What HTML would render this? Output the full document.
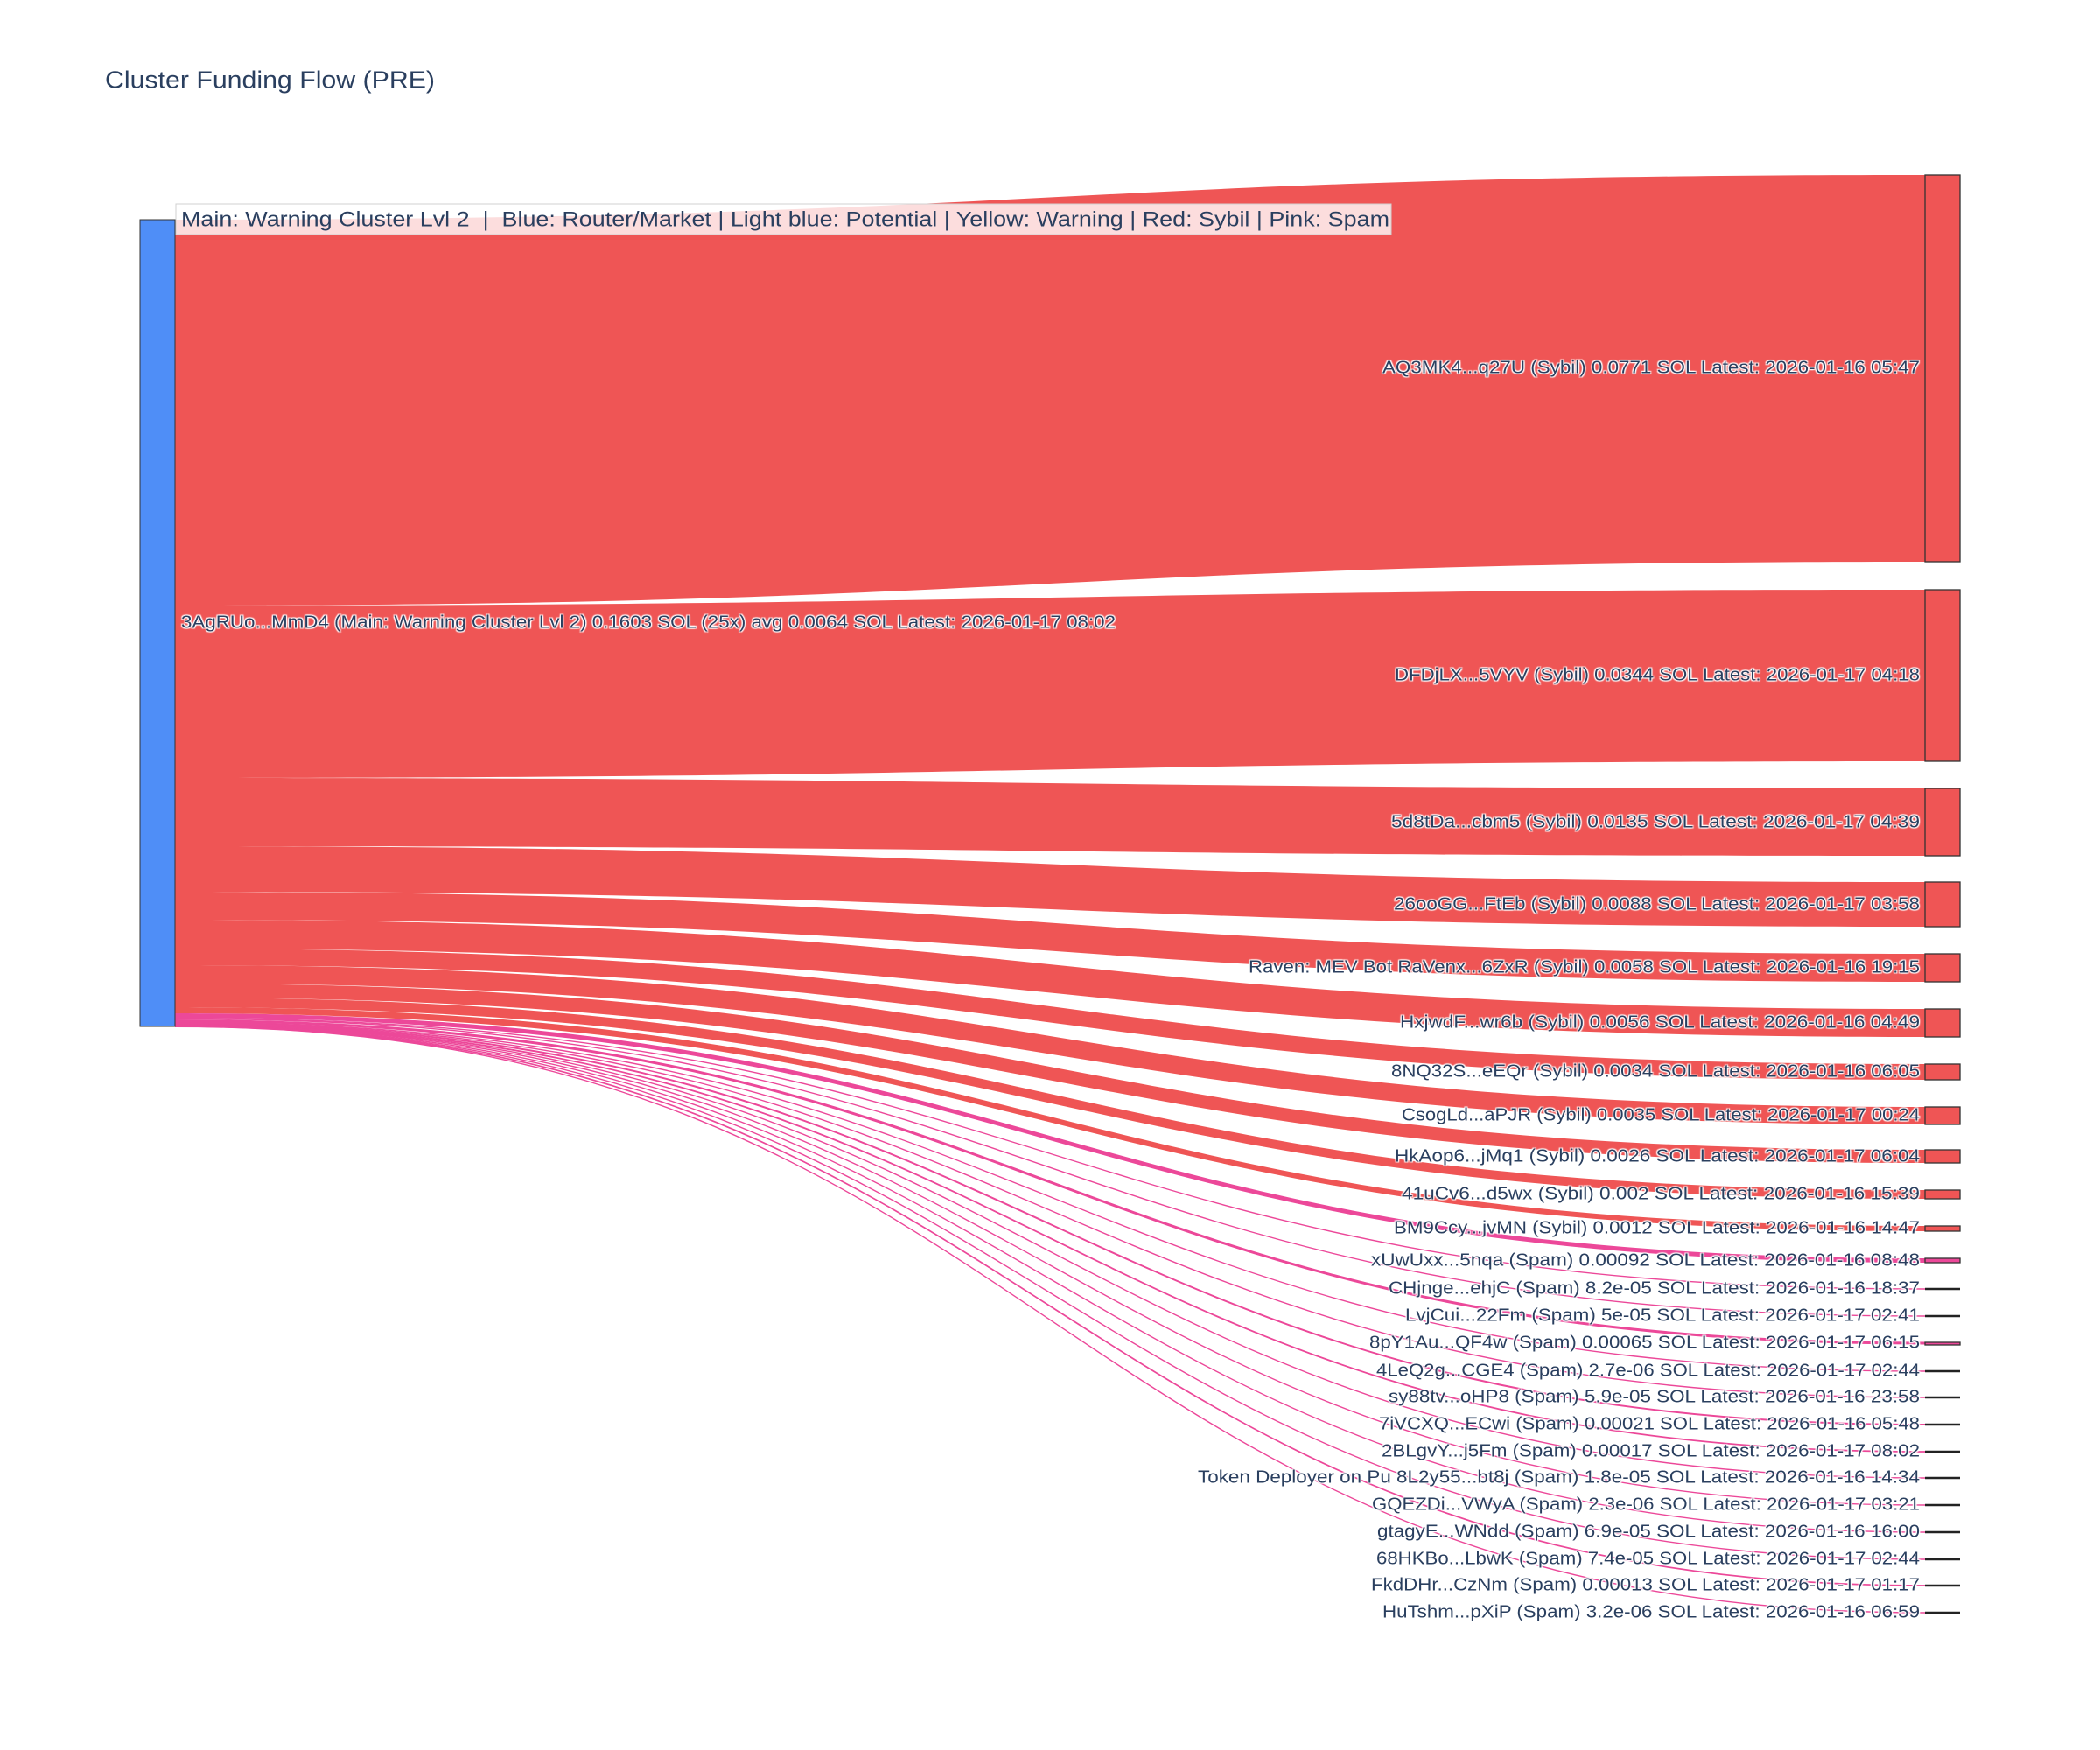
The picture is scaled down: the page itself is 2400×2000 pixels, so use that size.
<!DOCTYPE html>
<html><head><meta charset="utf-8"><style>
html,body{margin:0;padding:0;background:#fff;}
svg{display:block;}
text{font-family:"Liberation Sans",sans-serif;fill:#2a3f5f;}
.lb{font-size:20px;text-shadow:1px 1px 1px #fff,-1px -1px 1px #fff,1px -1px 1px #fff,-1px 1px 1px #fff;}
.sp{fill:none;stroke:#ec4899;stroke-width:1.4;}
.sn{stroke:#222;stroke-width:2.5;}
</style></head><body>
<svg width="2400" height="2000" viewBox="0 0 2400 2000" xmlns="http://www.w3.org/2000/svg">
<rect width="2400" height="2000" fill="#fff"/>
<text x="120" y="93" font-size="28" dominant-baseline="middle" textLength="377" lengthAdjust="spacingAndGlyphs">Cluster Funding Flow (PRE)</text>
<g fill="#ef5555">
<path d="M200,251 C1200,251 1200,200 2200,200 L2200,642 C1200,642 1200,692 200,692 Z"/>
<path d="M200,692 C1200,692 1200,674 2200,674 L2200,870 C1200,870 1200,889 200,889 Z"/>
<path d="M200,889 C1200,889 1200,901 2200,901 L2200,978 C1200,978 1200,967 200,967 Z"/>
<path d="M200,967 C1200,967 1200,1008 2200,1008 L2200,1059 C1200,1059 1200,1019 200,1019 Z"/>
<path d="M200,1019 C1200,1019 1200,1090 2200,1090 L2200,1122 C1200,1122 1200,1051 200,1051 Z"/>
<path d="M200,1051 C1200,1051 1200,1153 2200,1153 L2200,1185 C1200,1185 1200,1084 200,1084 Z"/>
<path d="M200,1084 C1200,1084 1200,1216 2200,1216 L2200,1234 C1200,1234 1200,1103 200,1103 Z"/>
<path d="M200,1103 C1200,1103 1200,1265 2200,1265 L2200,1285 C1200,1285 1200,1124 200,1124 Z"/>
<path d="M200,1124 C1200,1124 1200,1314 2200,1314 L2200,1329 C1200,1329 1200,1140 200,1140 Z"/>
<path d="M200,1140 C1200,1140 1200,1360 2200,1360 L2200,1370 C1200,1370 1200,1151 200,1151 Z"/>
<path d="M200,1151 C1200,1151 1200,1401 2200,1401 L2200,1407 C1200,1407 1200,1158 200,1158 Z"/>
</g>
<path fill="#ec4899" d="M200,1158 C1200,1158 1200,1438 2200,1438 L2200,1443 C1200,1443 1200,1163 200,1163 Z"/>
<path class="sp" d="M200,1163.5 C1200,1163.5 1200,1473 2200,1473"/>
<path class="sp" d="M200,1164.3 C1200,1164.3 1200,1504 2200,1504"/>
<path class="sp" style="stroke-width:3" d="M200,1166.5 C1200,1166.5 1200,1535 2200,1535"/>
<path class="sp" d="M200,1168.3 C1200,1168.3 1200,1567 2200,1567"/>
<path class="sp" d="M200,1169 C1200,1169 1200,1597 2200,1597"/>
<path class="sp" style="stroke-width:2" d="M200,1169.8 C1200,1169.8 1200,1628 2200,1628"/>
<path class="sp" style="stroke-width:1.8" d="M200,1170.7 C1200,1170.7 1200,1659 2200,1659"/>
<path class="sp" d="M200,1171.2 C1200,1171.2 1200,1689 2200,1689"/>
<path class="sp" d="M200,1171.5 C1200,1171.5 1200,1720 2200,1720"/>
<path class="sp" d="M200,1172 C1200,1172 1200,1751 2200,1751"/>
<path class="sp" d="M200,1172.5 C1200,1172.5 1200,1782 2200,1782"/>
<path class="sp" style="stroke-width:1.7" d="M200,1173 C1200,1173 1200,1812 2200,1812"/>
<path class="sp" d="M200,1173.3 C1200,1173.3 1200,1843 2200,1843"/>
<rect x="160" y="251" width="40" height="922" fill="#4f8ef7" stroke="#333" stroke-width="1"/>
<g fill="#ef5555" stroke="#333" stroke-width="1.3">
<rect x="2200" y="200" width="40" height="442"/>
<rect x="2200" y="674" width="40" height="196"/>
<rect x="2200" y="901" width="40" height="77"/>
<rect x="2200" y="1008" width="40" height="51"/>
<rect x="2200" y="1090" width="40" height="32"/>
<rect x="2200" y="1153" width="40" height="32"/>
<rect x="2200" y="1216" width="40" height="18"/>
<rect x="2200" y="1265" width="40" height="20"/>
<rect x="2200" y="1314" width="40" height="15"/>
<rect x="2200" y="1360" width="40" height="10"/>
<rect x="2200" y="1401" width="40" height="6"/>
</g>
<rect x="2200" y="1438" width="40" height="5" fill="#ec4899" stroke="#333" stroke-width="1.3"/>
<rect x="2200" y="1534" width="40" height="3" fill="#ec4899" stroke="#333" stroke-width="1.3"/>
<g class="sn">
<line x1="2200" x2="2240" y1="1473" y2="1473"/><line x1="2200" x2="2240" y1="1504" y2="1504"/>
<line x1="2200" x2="2240" y1="1567" y2="1567"/><line x1="2200" x2="2240" y1="1597" y2="1597"/>
<line x1="2200" x2="2240" y1="1628" y2="1628"/><line x1="2200" x2="2240" y1="1659" y2="1659"/>
<line x1="2200" x2="2240" y1="1689" y2="1689"/><line x1="2200" x2="2240" y1="1720" y2="1720"/>
<line x1="2200" x2="2240" y1="1751" y2="1751"/><line x1="2200" x2="2240" y1="1782" y2="1782"/>
<line x1="2200" x2="2240" y1="1812" y2="1812"/><line x1="2200" x2="2240" y1="1843" y2="1843"/>
</g>
<rect x="201" y="233" width="1389" height="35" fill="rgba(255,255,255,0.8)" stroke="#d0d0d0" stroke-width="1"/>
<text x="207" y="252" font-size="24" dominant-baseline="middle" style="white-space:pre" xml:space="preserve" textLength="1381" lengthAdjust="spacingAndGlyphs">Main: Warning Cluster Lvl 2  |  Blue: Router/Market | Light blue: Potential | Yellow: Warning | Red: Sybil | Pink: Spam</text>
<text class="lb" x="207" y="712" dominant-baseline="middle" textLength="1068" lengthAdjust="spacingAndGlyphs">3AgRUo...MmD4 (Main: Warning Cluster Lvl 2) 0.1603 SOL (25x) avg 0.0064 SOL Latest: 2026-01-17 08:02</text>
<g class="lb" text-anchor="end" dominant-baseline="middle">
<text x="2194" y="421" textLength="614" lengthAdjust="spacingAndGlyphs">AQ3MK4...q27U (Sybil) 0.0771 SOL Latest: 2026-01-16 05:47</text>
<text x="2194" y="772" textLength="600" lengthAdjust="spacingAndGlyphs">DFDjLX...5VYV (Sybil) 0.0344 SOL Latest: 2026-01-17 04:18</text>
<text x="2194" y="940" textLength="604" lengthAdjust="spacingAndGlyphs">5d8tDa...cbm5 (Sybil) 0.0135 SOL Latest: 2026-01-17 04:39</text>
<text x="2194" y="1034" textLength="601" lengthAdjust="spacingAndGlyphs">26ooGG...FtEb (Sybil) 0.0088 SOL Latest: 2026-01-17 03:58</text>
<text x="2194" y="1106" textLength="767" lengthAdjust="spacingAndGlyphs">Raven: MEV Bot RaVenx...6ZxR (Sybil) 0.0058 SOL Latest: 2026-01-16 19:15</text>
<text x="2194" y="1169" textLength="594" lengthAdjust="spacingAndGlyphs">HxjwdF...wr6b (Sybil) 0.0056 SOL Latest: 2026-01-16 04:49</text>
<text x="2194" y="1225" textLength="604" lengthAdjust="spacingAndGlyphs">8NQ32S...eEQr (Sybil) 0.0034 SOL Latest: 2026-01-16 06:05</text>
<text x="2194" y="1275" textLength="592" lengthAdjust="spacingAndGlyphs">CsogLd...aPJR (Sybil) 0.0035 SOL Latest: 2026-01-17 00:24</text>
<text x="2194" y="1322" textLength="600" lengthAdjust="spacingAndGlyphs">HkAop6...jMq1 (Sybil) 0.0026 SOL Latest: 2026-01-17 06:04</text>
<text x="2194" y="1365" textLength="592" lengthAdjust="spacingAndGlyphs">41uCv6...d5wx (Sybil) 0.002 SOL Latest: 2026-01-16 15:39</text>
<text x="2194" y="1404" textLength="601" lengthAdjust="spacingAndGlyphs">BM9Ccy...jvMN (Sybil) 0.0012 SOL Latest: 2026-01-16 14:47</text>
<text x="2194" y="1441" textLength="627" lengthAdjust="spacingAndGlyphs">xUwUxx...5nqa (Spam) 0.00092 SOL Latest: 2026-01-16 08:48</text>
<text x="2194" y="1473" textLength="607" lengthAdjust="spacingAndGlyphs">CHjnge...ehjC (Spam) 8.2e-05 SOL Latest: 2026-01-16 18:37</text>
<text x="2194" y="1504" textLength="588" lengthAdjust="spacingAndGlyphs">LvjCui...22Fm (Spam) 5e-05 SOL Latest: 2026-01-17 02:41</text>
<text x="2194" y="1535" textLength="629" lengthAdjust="spacingAndGlyphs">8pY1Au...QF4w (Spam) 0.00065 SOL Latest: 2026-01-17 06:15</text>
<text x="2194" y="1567" textLength="621" lengthAdjust="spacingAndGlyphs">4LeQ2g...CGE4 (Spam) 2.7e-06 SOL Latest: 2026-01-17 02:44</text>
<text x="2194" y="1597" textLength="607" lengthAdjust="spacingAndGlyphs">sy88tv...oHP8 (Spam) 5.9e-05 SOL Latest: 2026-01-16 23:58</text>
<text x="2194" y="1628" textLength="618" lengthAdjust="spacingAndGlyphs">7iVCXQ...ECwi (Spam) 0.00021 SOL Latest: 2026-01-16 05:48</text>
<text x="2194" y="1659" textLength="615" lengthAdjust="spacingAndGlyphs">2BLgvY...j5Fm (Spam) 0.00017 SOL Latest: 2026-01-17 08:02</text>
<text x="2194" y="1689" textLength="825" lengthAdjust="spacingAndGlyphs">Token Deployer on Pu 8L2y55...bt8j (Spam) 1.8e-05 SOL Latest: 2026-01-16 14:34</text>
<text x="2194" y="1720" textLength="626" lengthAdjust="spacingAndGlyphs">GQEZDi...VWyA (Spam) 2.3e-06 SOL Latest: 2026-01-17 03:21</text>
<text x="2194" y="1751" textLength="620" lengthAdjust="spacingAndGlyphs">gtagyE...WNdd (Spam) 6.9e-05 SOL Latest: 2026-01-16 16:00</text>
<text x="2194" y="1782" textLength="621" lengthAdjust="spacingAndGlyphs">68HKBo...LbwK (Spam) 7.4e-05 SOL Latest: 2026-01-17 02:44</text>
<text x="2194" y="1812" textLength="627" lengthAdjust="spacingAndGlyphs">FkdDHr...CzNm (Spam) 0.00013 SOL Latest: 2026-01-17 01:17</text>
<text x="2194" y="1843" textLength="614" lengthAdjust="spacingAndGlyphs">HuTshm...pXiP (Spam) 3.2e-06 SOL Latest: 2026-01-16 06:59</text>
</g>
</svg>
</body></html>
